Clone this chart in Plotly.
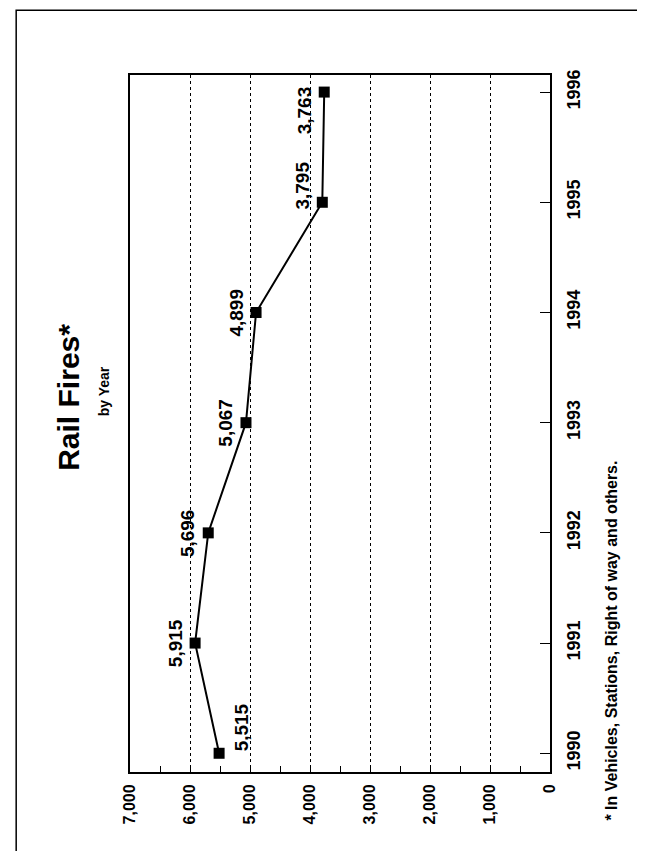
import plotly.graph_objects as go

# Rail fires by year (chart is drawn rotated 90 degrees, as in the scan)
years = [1990, 1991, 1992, 1993, 1994, 1995, 1996]
fires = [5515, 5915, 5696, 5067, 4899, 3795, 3763]
fire_labels = ["5,515", "5,915", "5,696", "5,067", "4,899", "3,795", "3,763"]
value_ticks = [0, 1000, 2000, 3000, 4000, 5000, 6000, 7000]
value_tick_text = ["0", "1,000", "2,000", "3,000", "4,000", "5,000", "6,000", "7,000"]

font_name = "Liberation Sans, Arial, sans-serif"

fig = go.Figure()

fig.add_trace(go.Scatter(
    x=fires,
    y=years,
    mode="lines+markers",
    line=dict(color="black", width=2),
    marker=dict(symbol="square", size=11, color="black"),
    showlegend=False,
    hoverinfo="skip"
))

# Value labels, rotated like the rest of the page
label_shift = {0: (22, 0), 5: (-20, 17), 6: (-20, -18)}
annotations = []
for i in range(len(years)):
    xs, ys = label_shift.get(i, (-20, 0))
    ann = dict(
        x=fires[i], y=years[i], text="<b>" + fire_labels[i] + "</b>",
        showarrow=False, textangle=-90, xshift=xs, yshift=ys,
        font=dict(family=font_name, size=19, color="black")
    )
    if i == 0:
        ann["yanchor"] = "bottom"
    annotations.append(ann)

# Title, subtitle and footnote
annotations.append(dict(
    xref="paper", yref="paper", x=-0.145, y=0.537,
    xanchor="center", yanchor="middle",
    text="<b>Rail Fires*</b>", showarrow=False, textangle=-90,
    font=dict(family=font_name, size=30, color="black")
))
annotations.append(dict(
    xref="paper", yref="paper", x=-0.06, y=0.546,
    xanchor="center", yanchor="middle",
    text="<b>by Year</b>", showarrow=False, textangle=-90,
    font=dict(family=font_name, size=14, color="black")
))
annotations.append(dict(
    xref="paper", yref="paper", x=1.147, y=-0.073,
    xanchor="center", yanchor="bottom",
    text="<b>* In Vehicles, Stations, Right of way and others.</b>",
    showarrow=False, textangle=-90,
    font=dict(family=font_name, size=16, color="black")
))

fig.update_layout(
    width=645,
    height=851,
    margin=dict(l=122, r=103, t=67, b=87),
    paper_bgcolor="white",
    plot_bgcolor="white",
    annotations=annotations,
    shapes=[dict(
        type="rect", xref="paper", yref="paper",
        x0=-0.271, x1=1.238, y0=-0.119, y1=1.093,
        line=dict(color="black", width=1.5)
    )],
    xaxis=dict(
        range=[7000, 0],
        tickvals=value_ticks,
        ticktext=value_tick_text,
        tickangle=-90,
        tickfont=dict(family=font_name, size=16, color="black", weight="bold"),
        ticklabelstandoff=4,
        showgrid=True,
        gridcolor="black",
        gridwidth=1,
        griddash="3px,3px",
        zeroline=False,
        showline=True,
        linecolor="black",
        linewidth=2,
        mirror=True,
        ticks="inside",
        ticklen=6,
        tickcolor="black",
        minor=dict(dtick=500, ticks="inside", ticklen=6, tickcolor="black", showgrid=False),
        fixedrange=True
    ),
    yaxis=dict(
        range=[1989.83, 1996.155],
        side="right",
        tickvals=years,
        tickangle=-90,
        tickfont=dict(family=font_name, size=18, color="black", weight="bold"),
        ticklabelstandoff=6,
        showgrid=False,
        zeroline=False,
        showline=True,
        linecolor="black",
        linewidth=2,
        mirror=True,
        ticks="inside",
        ticklen=10,
        tickcolor="black",
        fixedrange=True
    )
)

fig.write_html("out.html")
